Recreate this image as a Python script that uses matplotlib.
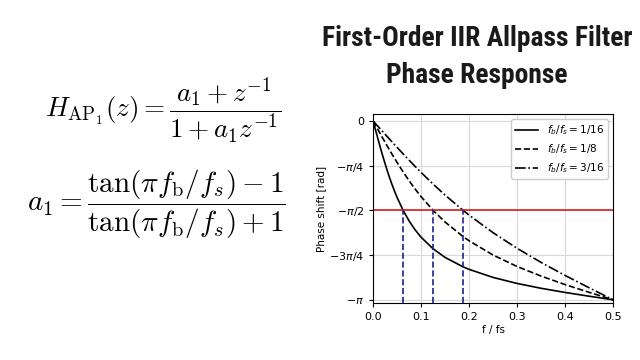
import numpy as np
import matplotlib
matplotlib.use("Agg")
import matplotlib.pyplot as plt

# =============================================================
# DATA
# =============================================================
freq = [0.0, 0.005, 0.01, 0.015, 0.02, 0.025, 0.03, 0.035, 0.04, 0.045,
        0.05, 0.0625, 0.075, 0.0875, 0.1, 0.125, 0.15, 0.1875, 0.2, 0.25,
        0.3, 0.35, 0.4, 0.45, 0.5]

phase_1_16 = [0.0, -0.1576, -0.3134, -0.4656, -0.6128, -0.7535, -0.8871,
              -1.0135, -1.1318, -1.2421, -1.3448, -1.5708, -1.7578, -1.9130,
              -2.0429, -2.2462, -2.3973, -2.5629, -2.6071, -2.7489, -2.8546,
              -2.9396, -3.0125, -3.0786, -3.1416]
phase_1_8 = [0.0, -0.0758, -0.1514, -0.2267, -0.3015, -0.3755, -0.4487,
             -0.5210, -0.5921, -0.6619, -0.7304, -0.8954, -1.0506, -1.1956,
             -1.3305, -1.5708, -1.7765, -2.0318, -2.1052, -2.3562, -2.5569,
             -2.7256, -2.8740, -3.0106, -3.1416]
phase_3_16 = [0.0, -0.0470, -0.0940, -0.1409, -0.1878, -0.2345, -0.2810,
              -0.3275, -0.3737, -0.4197, -0.4655, -0.5787, -0.6899, -0.7988,
              -0.9052, -1.1098, -1.3030, -1.5708, -1.6545, -1.9635, -2.2377,
              -2.4853, -2.7140, -2.9307, -3.1416]

break_freqs = [1 / 16, 1 / 8, 3 / 16]
labels = [r"$f_b/f_s = 1/16$", r"$f_b/f_s = 1/8$", r"$f_b/f_s = 3/16$"]
styles = ["-", "--", "-."]

ytick_vals = [0, -np.pi / 4, -np.pi / 2, -3 * np.pi / 4, -np.pi]
ytick_labels = ["0", r"$-\pi/4$", r"$-\pi/2$", r"$-3\pi/4$", r"$-\pi$"]

# =============================================================
# FIGURE
# =============================================================
fig = plt.figure(figsize=(6.4, 3.6), dpi=100)
fig.patch.set_facecolor("white")

# title (top right) - condensed bold face if one is installed
fig.text(0.745, 0.842, "First-Order IIR Allpass Filter\nPhase Response",
         ha="center", va="center", fontsize=19.8, fontweight="bold",
         family=["Roboto Condensed", "Open Sans Condensed", "DejaVu Sans Condensed",
                 "Liberation Sans Narrow", "Roboto"],
         fontstretch="condensed", color="#1a1a1a", linespacing=1.5)

# equations (left)
fig.text(0.254, 0.692, r"$H_{\mathrm{AP}_1}(z) = \dfrac{a_1 + z^{-1}}{1 + a_1 z^{-1}}$",
         ha="center", va="center", fontsize=19.5, math_fontfamily="cm")
fig.text(0.245, 0.431,
         r"$a_1 = \dfrac{\tan(\pi f_\mathrm{b}/f_s) - 1}{\tan(\pi f_\mathrm{b}/f_s) + 1}$",
         ha="center", va="center", fontsize=21, math_fontfamily="cm")

# phase plot
ax = fig.add_axes([0.583, 0.158, 0.375, 0.525])
series = [phase_1_16, phase_1_8, phase_3_16]
for vals, ls, lab in zip(series, styles, labels):
    ax.plot(freq, vals, color="black", linestyle=ls, linewidth=1.2, label=lab)

ymin, ymax = -3.2, 0.12
ax.axhline(-np.pi / 2, color="#d62020", linewidth=1.2)
ax.vlines(break_freqs, ymin, -np.pi / 2, colors="#1f1f8f",
          linestyles="--", linewidth=1.2)

ax.set_xlim(0, 0.5)
ax.set_ylim(ymin, ymax)
ax.set_xticks([0.0, 0.1, 0.2, 0.3, 0.4, 0.5])
ax.set_yticks(ytick_vals)
ax.set_yticklabels(ytick_labels)
ax.tick_params(labelsize=8, length=3)
ax.grid(True, color="#d8d8d8", linewidth=0.8)
ax.set_xlabel("f / fs", fontsize=7.5, labelpad=2)
ax.set_ylabel("Phase shift [rad]", fontsize=7.5, labelpad=2)
ax.legend(loc="upper right", fontsize=7.5, framealpha=1, edgecolor="#cccccc",
          handlelength=2.2)

plt.savefig("out.png", dpi=100)
